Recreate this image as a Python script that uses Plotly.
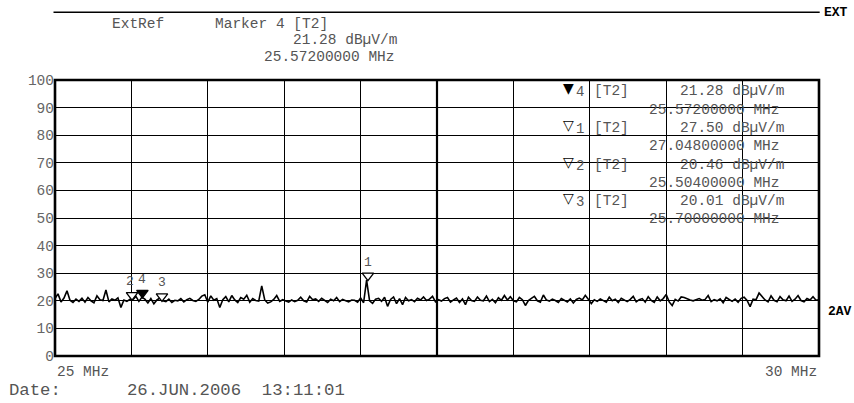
import numpy as np
import plotly.graph_objects as go

# ---------------- data ----------------
f_start, f_stop = 25.0, 30.0
y_ticks = list(range(0, 101, 10))

trace_db = [
    20.8, 22.5, 19.6, 21.0, 23.6, 20.2, 19.4, 20.6, 19.8, 20.9, 19.5, 21.2, 20.0, 19.3, 21.8, 20.4, 20.1, 23.9, 19.6, 20.7, 20.2, 21.1, 17.6, 20.3, 19.8,
    20.5, 20.4, 21.6, 19.8, 21.3, 20.6, 19.2, 20.8, 18.9, 20.3, 21.0, 20.0, 19.7, 20.6, 19.4, 20.2, 20.0, 20.8, 19.6, 20.4, 20.9, 20.1, 19.8, 20.5, 21.7,
    22.2, 19.5, 21.8, 20.2, 20.8, 17.6, 20.4, 21.5, 19.6, 21.9, 20.3, 19.4, 21.2, 20.6, 22.0, 19.5, 20.8, 20.1, 19.9, 25.4, 20.3, 19.2, 19.6, 20.5, 21.9,
    19.8, 20.4, 20.0, 19.5, 20.3, 19.7, 20.2, 21.3, 20.0, 19.6, 21.6, 20.4, 20.7, 19.8, 20.9, 20.1, 19.4, 20.6, 20.0, 21.2, 19.7, 20.5, 20.1, 19.6, 20.3,
    20.2, 19.5, 21.0, 19.3, 27.5, 20.0, 19.1, 20.6, 20.9, 19.8, 21.3, 18.0, 20.5, 21.4, 19.0, 20.8, 18.6, 21.2, 20.0, 20.4, 19.7, 20.9, 20.3, 21.4, 20.1,
    20.6, 21.6, 19.6, 20.4, 19.9, 20.8, 21.2, 19.5, 20.3, 21.0, 19.4, 20.7, 18.6, 21.3, 20.1, 19.8, 21.4, 20.2, 20.0, 21.7, 19.7, 20.5, 19.3, 21.1, 20.2,
    21.9, 20.3, 21.5, 20.0, 19.6, 21.2, 20.4, 18.3, 20.1, 20.9, 21.6, 20.0, 19.5, 22.1, 20.3, 19.9, 20.6, 20.1, 19.4, 20.8, 20.2, 19.6, 20.7, 19.2, 20.5,
    21.0, 20.3, 22.0, 20.6, 19.0, 20.4, 19.8, 20.7, 20.1, 19.5, 21.3, 20.0, 20.6, 19.4, 20.9, 20.2, 19.7, 20.5, 21.6, 19.6, 20.4, 20.8, 19.5, 21.5, 20.1,
    19.4, 21.4, 20.0, 20.8, 22.3, 19.6, 18.3, 20.5, 19.9, 21.4, 21.2, 20.6, 20.3, 20.0, 20.4, 20.8, 20.2, 20.5, 21.9, 19.7, 20.4, 20.0, 20.7, 19.3, 21.2,
    20.4, 19.8, 20.6, 19.5, 20.9, 21.3, 20.1, 17.9, 20.6, 20.4, 22.8, 21.4, 20.3, 19.6, 21.8, 20.2, 19.7, 21.5, 20.4, 20.0, 21.7, 19.8, 20.6, 21.9, 20.1,
    19.6, 20.8, 20.3, 21.5, 20.2, 20.4,
]
trace_freq = np.linspace(f_start, f_stop, len(trace_db))

marker_ids = [4, 1, 2, 3]
marker_freq = [25.572, 27.048, 25.504, 25.700]
marker_db = [21.28, 27.50, 20.46, 20.01]
marker_filled = [True, False, False, False]
active_marker = 0  # index of marker 4

unit = "dB\u00b5V/m"
date_text = "26.JUN.2006  13:11:01"

# ---------------- layout helpers ----------------
W, H = 854, 403
L, R, T, B = 54.5, 819.3, 80.0, 356.3
MONO = "Liberation Mono, Courier New, monospace"
SYM = "DejaVu Sans, sans-serif"
GRAY = "#555555"


def px(xp):
    return (xp - L) / (R - L)


def py(yp):
    return (B - yp) / (B - T)


fig = go.Figure()

fig.add_trace(go.Scatter(
    x=trace_freq, y=trace_db, mode="lines",
    line=dict(color="black", width=1.6), hoverinfo="skip", showlegend=False,
))

# marker triangles (tip at the level)
tri_off = 1.6
for mid, mf, md, filled in zip(marker_ids, marker_freq, marker_db, marker_filled):
    fig.add_trace(go.Scatter(
        x=[mf], y=[md + tri_off], mode="markers",
        marker=dict(symbol="triangle-down", size=10,
                    color="black" if filled else "white",
                    line=dict(color="black", width=1.3)),
        showlegend=False, hoverinfo="skip",
    ))
    fig.add_annotation(x=mf, y=md, xref="x", yref="y", text=str(mid),
                       showarrow=False, yshift=18, xshift=-2 if mid == 2 else 0,
                       font=dict(family=MONO, size=13, color=GRAY))


def txt(x, y, s, anchor="left", size=14.5, color=GRAY, bold=False, family=MONO):
    fig.add_annotation(x=px(x), y=py(y), xref="paper", yref="paper",
                       text=f"<b>{s}</b>" if bold else s, showarrow=False,
                       xanchor=anchor, yanchor="middle",
                       font=dict(family=family, size=size, color=color))


# header
am = active_marker
txt(110, 24, "ExtRef")
txt(213, 24, f"Marker {marker_ids[am]} [T2]")
txt(399, 40, f"{marker_db[am]:.2f} {unit}", anchor="right")
txt(397, 57, f"{marker_freq[am]:.8f} MHz", anchor="right")
txt(822, 12, "EXT", size=13, color="black", bold=True)
txt(826, 312, "2AV", size=13, color="black", bold=True)

# marker table
row0, step = 90.5, 18.3
for k, (mid, mf, md, filled) in enumerate(zip(marker_ids, marker_freq, marker_db, marker_filled)):
    yr = row0 + 2 * k * step
    txt(561, yr - 2, "\u25bc" if filled else "\u25bd", size=14, color="black", family=SYM)
    txt(574, yr + 2, str(mid), size=14)
    txt(592, yr + 1, "[T2]")
    txt(786, yr + 1, f"{md:.2f} {unit}", anchor="right")
    txt(782, yr + step + 1, f"{mf:.8f} MHz", anchor="right")

# axis captions
txt(55, 372, f"{f_start:g} MHz")
txt(819, 372, f"{f_stop:g} MHz", anchor="right")
txt(6, 391, "Date:", size=17.3)
txt(125, 391, date_text, size=17.3)

# shapes: top rule, border, centre line
fig.add_shape(type="line", xref="paper", yref="paper", x0=px(53), x1=px(820),
              y0=py(12.3), y1=py(12.3), line=dict(color="black", width=1.5))
fig.add_shape(type="line", xref="x", yref="paper", x0=(f_start + f_stop) / 2,
              x1=(f_start + f_stop) / 2, y0=0, y1=1, line=dict(color="black", width=2.2))
fig.add_shape(type="rect", xref="paper", yref="paper", x0=0, x1=1, y0=0, y1=1,
              line=dict(color="black", width=2.6))

fig.update_layout(
    width=W, height=H,
    margin=dict(l=L, r=W - R, t=T, b=H - B, pad=0),
    paper_bgcolor="white", plot_bgcolor="white",
    showlegend=False,
)
fig.update_xaxes(range=[f_start, f_stop], dtick=0.5, tick0=f_start,
                 showgrid=True, gridcolor="black", gridwidth=1,
                 showticklabels=False, zeroline=False, ticks="", fixedrange=True)
fig.update_yaxes(range=[0, 100], tickvals=y_ticks, showgrid=True,
                 gridcolor="black", gridwidth=1, zeroline=False, ticks="",
                 tickfont=dict(family=MONO, size=14.5, color="#666666"),
                 ticklabelstandoff=0, fixedrange=True)

fig.write_html(
    "out.html",
    config={"displayModeBar": False, "staticPlot": True},
    post_script="document.body.style.margin='0';document.body.style.overflow='hidden';",
)
